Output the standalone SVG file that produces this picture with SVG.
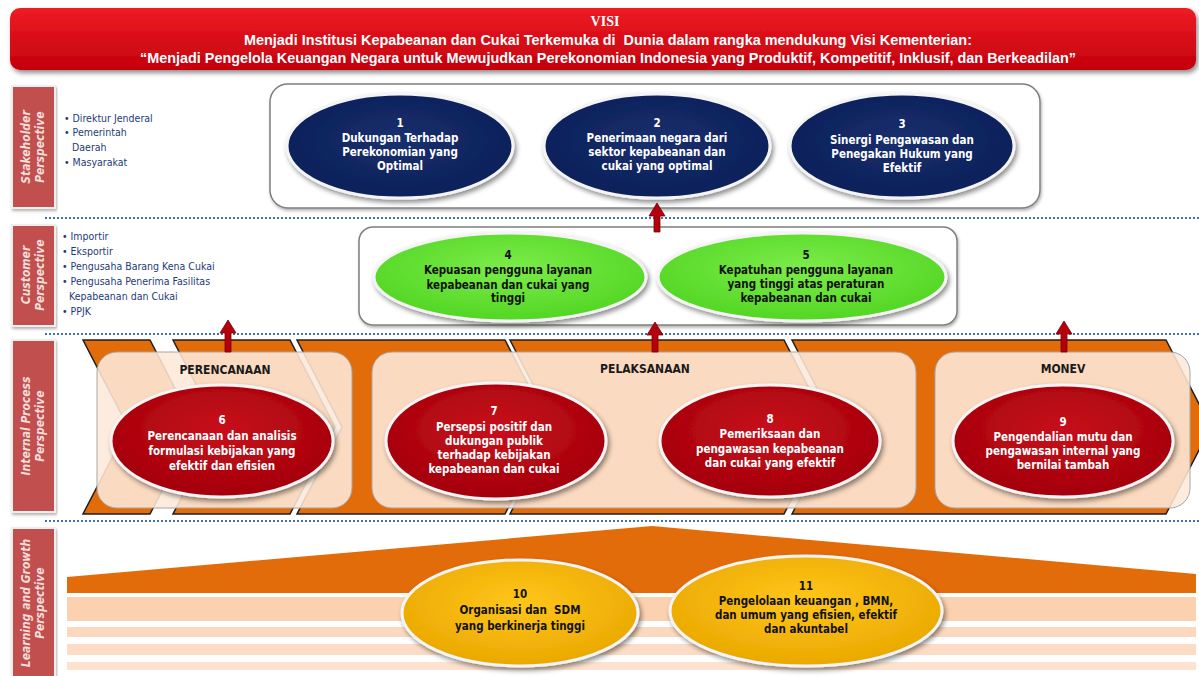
<svg xmlns="http://www.w3.org/2000/svg" width="1199" height="676" viewBox="0 0 1199 676">
<defs>
<linearGradient id="gBanner" x1="0" y1="0" x2="0" y2="1"><stop offset="0" stop-color="#ee1c24"/><stop offset="1" stop-color="#c4000c"/></linearGradient>
<radialGradient id="gNavy" cx="0.5" cy="0.45" r="0.6"><stop offset="0" stop-color="#17306f"/><stop offset="1" stop-color="#0c1e57"/></radialGradient>
<radialGradient id="gGreen" cx="0.5" cy="0.4" r="0.6"><stop offset="0" stop-color="#7cec4a"/><stop offset="1" stop-color="#52d623"/></radialGradient>
<radialGradient id="gRed" cx="0.5" cy="0.4" r="0.6"><stop offset="0" stop-color="#c8101c"/><stop offset="1" stop-color="#a3000a"/></radialGradient>
<radialGradient id="gGold" cx="0.5" cy="0.4" r="0.6"><stop offset="0" stop-color="#ffc61a"/><stop offset="1" stop-color="#eaa800"/></radialGradient>
<filter id="sh" x="-10%" y="-10%" width="125%" height="135%"><feDropShadow dx="2" dy="3" stdDeviation="2.5" flood-color="#000" flood-opacity="0.45"/></filter>
<filter id="shs" x="-5%" y="-5%" width="110%" height="120%"><feDropShadow dx="1" dy="2" stdDeviation="1.5" flood-color="#000" flood-opacity="0.3"/></filter>
<style>
.lbl{fill:#c0504d;stroke:#eeeeee;stroke-width:2}
.lt{font-family:"DejaVu Sans Condensed","DejaVu Sans",sans-serif;font-weight:bold;font-style:italic;font-size:12px;fill:#f6dddc;text-anchor:middle}
.bul{font-family:"DejaVu Sans Condensed","DejaVu Sans",sans-serif;font-size:10.5px;fill:#1f3b78}
.box{fill:#ffffff;stroke:#7f7f7f;stroke-width:1.5}
.dot{stroke:#3f6fb5;stroke-width:2;stroke-dasharray:2 2;fill:none}
.el{stroke:#f4f4f4;stroke-width:3}
.tw{font-family:"DejaVu Sans Condensed","DejaVu Sans",sans-serif;font-weight:bold;font-size:11.5px;fill:#ffffff;text-anchor:middle}
.tb{font-family:"DejaVu Sans Condensed","DejaVu Sans",sans-serif;font-weight:bold;font-size:11.5px;fill:#111111;text-anchor:middle}
.hd{font-family:"DejaVu Sans Condensed","DejaVu Sans",sans-serif;font-weight:bold;font-size:12px;fill:#1a1a1a;text-anchor:middle}
.chev{fill:#e36c0a;stroke:#1e1e1e;stroke-width:1.5}
.beige{fill:#fde9d9;fill-opacity:0.88;stroke:#a6a6a6;stroke-width:1}
.arr{fill:#b3000c;stroke:#7a0008;stroke-width:0.8}
.vt{font-family:"Liberation Sans",Arial,sans-serif;font-weight:bold;font-size:14px;fill:#ffffff;text-anchor:middle}
</style>
</defs>
<rect width="1199" height="676" fill="#ffffff"/>

<g id="banner">
<rect x="10" y="8" width="1186" height="62" rx="10" fill="url(#gBanner)" filter="url(#sh)"/>
<text x="605" y="26" class="vt" style="font-family:'Liberation Serif',serif">VISI</text>
<text x="608" y="45" class="vt" textLength="728" lengthAdjust="spacingAndGlyphs">Menjadi Institusi Kepabeanan dan Cukai Terkemuka di&#160; Dunia dalam rangka mendukung Visi Kementerian:</text>
<text x="608" y="63" class="vt" textLength="936" lengthAdjust="spacingAndGlyphs">“Menjadi Pengelola Keuangan Negara untuk Mewujudkan Perekonomian Indonesia yang Produktif, Kompetitif, Inklusif, dan Berkeadilan”</text>
</g>

<g id="separators">
<line x1="45" y1="218" x2="1199" y2="218" class="dot"/>
<line x1="45" y1="334" x2="1199" y2="334" class="dot"/>
<line x1="45" y1="521" x2="1199" y2="521" class="dot"/>
</g>

<g id="label-stakeholder">
<rect x="12" y="86" width="43" height="122" class="lbl" filter="url(#shs)"/>
<text class="lt" transform="translate(33,147) rotate(-90)"><tspan x="0" y="-3">Stakeholder</tspan><tspan x="0" y="11">Perspective</tspan></text>
</g>
<g id="label-customer">
<rect x="12" y="225" width="43" height="101" class="lbl" filter="url(#shs)"/>
<text class="lt" transform="translate(33,275) rotate(-90)"><tspan x="0" y="-3">Customer</tspan><tspan x="0" y="11">Perspective</tspan></text>
</g>
<g id="label-internal">
<rect x="12" y="340" width="43" height="172" class="lbl" filter="url(#shs)"/>
<text class="lt" transform="translate(33,426) rotate(-90)"><tspan x="0" y="-3">Internal Process</tspan><tspan x="0" y="11">Perspective</tspan></text>
</g>
<g id="label-learning">
<rect x="12" y="528" width="43" height="150" class="lbl" filter="url(#shs)"/>
<text class="lt" transform="translate(33,603) rotate(-90)"><tspan x="0" y="-3">Learning and Growth</tspan><tspan x="0" y="11">Perspective</tspan></text>
</g>

<g id="stakeholder-list">
<text class="bul" x="64" y="122">• Direktur Jenderal</text>
<text class="bul" x="64" y="136">• Pemerintah</text>
<text class="bul" x="72" y="151">Daerah</text>
<text class="bul" x="64" y="166">• Masyarakat</text>
</g>
<g id="customer-list">
<text class="bul" x="62" y="240">• Importir</text>
<text class="bul" x="62" y="255">• Eksportir</text>
<text class="bul" x="62" y="270">• Pengusaha Barang Kena Cukai</text>
<text class="bul" x="62" y="285">• Pengusaha Penerima Fasilitas</text>
<text class="bul" x="69" y="300">Kepabeanan dan Cukai</text>
<text class="bul" x="62" y="315">• PPJK</text>
</g>

<g id="stakeholder-box"><rect x="270" y="84" width="770" height="124" rx="18" class="box" filter="url(#shs)"/></g>
<g id="customer-box"><rect x="359" y="227" width="598" height="98" rx="14" class="box" filter="url(#shs)"/></g>

<g id="process-band">
<polygon class="chev" points="83,340 150,340 195,427 150,514 83,514 128,427"/>
<polygon class="chev" points="173,340 290,340 335,427 290,514 173,514 218,427"/>
<polygon class="chev" points="297,340 505,340 550,427 505,514 297,514 342,427"/>
<polygon class="chev" points="510,340 784,340 829,427 784,514 510,514 555,427"/>
<polygon class="chev" points="792,340 1166,340 1211,427 1166,514 792,514 837,427"/>
<rect x="97" y="352" width="255" height="156" rx="20" class="beige"/>
<rect x="372" y="352" width="544" height="156" rx="20" class="beige"/>
<rect x="935" y="352" width="255" height="156" rx="20" class="beige"/>
<text x="225" y="374" class="hd">PERENCANAAN</text>
<text x="645" y="373" class="hd">PELAKSANAAN</text>
<text x="1063" y="373" class="hd">MONEV</text>
</g>

<g id="learning-band">
<polygon points="67,577 652,526 1196,574 1196,593 67,593" fill="#e36c0a"/>
<rect x="67" y="597" width="1129" height="24" fill="#fbd1b0"/>
<rect x="67" y="627" width="1129" height="10" fill="#fcd9be"/>
<rect x="67" y="644" width="1129" height="11" fill="#fcdcc4"/>
<rect x="67" y="662" width="1129" height="8" fill="#fde3cf"/>
</g>

<g id="connectors">
<polygon class="arr" points="657,203 665,216 660,216 660,232 654,232 654,216 649,216"/>
<polygon class="arr" points="228,320 236,333 231,333 231,352 225,352 225,333 220,333"/>
<polygon class="arr" points="655,322 663,335 658,335 658,352 652,352 652,335 647,335"/>
<polygon class="arr" points="1064,321 1072,334 1067,334 1067,352 1061,352 1061,334 1056,334"/>
</g>

<g id="node-1"><ellipse cx="400" cy="146" rx="113" ry="52" fill="url(#gNavy)" class="el" filter="url(#sh)"/>
<text class="tw" x="400" y="127">1</text><text class="tw" x="400" y="142">Dukungan Terhadap</text><text class="tw" x="400" y="156">Perekonomian yang</text><text class="tw" x="400" y="170">Optimal</text></g>
<g id="node-2"><ellipse cx="657" cy="146" rx="113" ry="52" fill="url(#gNavy)" class="el" filter="url(#sh)"/>
<text class="tw" x="657" y="127">2</text><text class="tw" x="657" y="142">Penerimaan negara dari</text><text class="tw" x="657" y="156">sektor kepabeanan dan</text><text class="tw" x="657" y="170">cukai yang optimal</text></g>
<g id="node-3"><ellipse cx="902" cy="146" rx="112" ry="52" fill="url(#gNavy)" class="el" filter="url(#sh)"/>
<text class="tw" x="902" y="128">3</text><text class="tw" x="902" y="144">Sinergi Pengawasan dan</text><text class="tw" x="902" y="158">Penegakan Hukum yang</text><text class="tw" x="902" y="172">Efektif</text></g>

<g id="node-4"><ellipse cx="510" cy="277" rx="136" ry="44" fill="url(#gGreen)" class="el" filter="url(#sh)"/>
<text class="tb" x="508" y="259">4</text><text class="tb" x="508" y="274">Kepuasan pengguna layanan</text><text class="tb" x="508" y="289">kepabeanan dan cukai yang</text><text class="tb" x="508" y="302">tinggi</text></g>
<g id="node-5"><ellipse cx="802" cy="277" rx="144" ry="44" fill="url(#gGreen)" class="el" filter="url(#sh)"/>
<text class="tb" x="806" y="259">5</text><text class="tb" x="806" y="274">Kepatuhan pengguna layanan</text><text class="tb" x="806" y="288">yang tinggi atas peraturan</text><text class="tb" x="806" y="302">kepabeanan dan cukai</text></g>

<g id="node-6"><ellipse cx="222" cy="441" rx="111" ry="56" fill="url(#gRed)" class="el" filter="url(#sh)"/>
<text class="tw" x="222" y="424">6</text><text class="tw" x="222" y="440">Perencanaan dan analisis</text><text class="tw" x="222" y="455">formulasi kebijakan yang</text><text class="tw" x="222" y="470">efektif dan efisien</text></g>
<g id="node-7"><ellipse cx="496" cy="441" rx="110" ry="58" fill="url(#gRed)" class="el" filter="url(#sh)"/>
<text class="tw" x="494" y="415">7</text><text class="tw" x="494" y="431">Persepsi positif dan</text><text class="tw" x="494" y="445">dukungan publik</text><text class="tw" x="494" y="459">terhadap kebijakan</text><text class="tw" x="494" y="473">kepabeanan dan cukai</text></g>
<g id="node-8"><ellipse cx="770" cy="441" rx="110" ry="56" fill="url(#gRed)" class="el" filter="url(#sh)"/>
<text class="tw" x="770" y="423">8</text><text class="tw" x="770" y="438">Pemeriksaan dan</text><text class="tw" x="770" y="453">pengawasan kepabeanan</text><text class="tw" x="770" y="467">dan cukai yang efektif</text></g>
<g id="node-9"><ellipse cx="1063" cy="441" rx="110" ry="56" fill="url(#gRed)" class="el" filter="url(#sh)"/>
<text class="tw" x="1063" y="426">9</text><text class="tw" x="1063" y="441">Pengendalian mutu dan</text><text class="tw" x="1063" y="455">pengawasan internal yang</text><text class="tw" x="1063" y="469">bernilai tambah</text></g>

<g id="node-10"><ellipse cx="520" cy="613" rx="118" ry="53" fill="url(#gGold)" class="el" filter="url(#sh)"/>
<text class="tb" x="520" y="598">10</text><text class="tb" x="520" y="614">Organisasi dan&#160; SDM</text><text class="tb" x="520" y="630">yang berkinerja tinggi</text></g>
<g id="node-11"><ellipse cx="806" cy="611" rx="136" ry="55" fill="url(#gGold)" class="el" filter="url(#sh)"/>
<text class="tb" x="806" y="590">11</text><text class="tb" x="806" y="605">Pengelolaan keuangan , BMN,</text><text class="tb" x="806" y="619">dan umum yang efisien, efektif</text><text class="tb" x="806" y="633">dan akuntabel</text></g>
</svg>
